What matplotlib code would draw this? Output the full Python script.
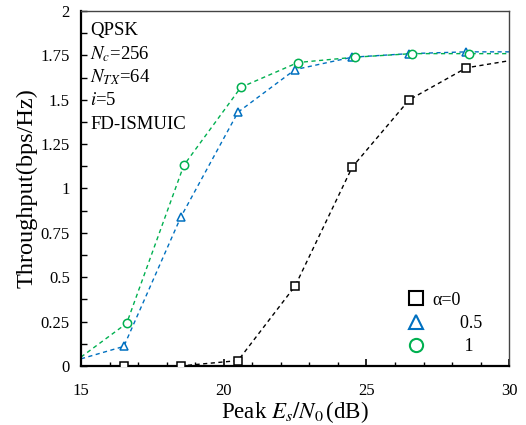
import numpy as np
import matplotlib
matplotlib.use("Agg")
import matplotlib.pyplot as plt
from matplotlib.ticker import MultipleLocator, FixedLocator

plt.rcParams['font.family'] = ['Liberation Serif', 'DejaVu Serif']
plt.rcParams['mathtext.fontset'] = 'stix'

# dados
x_a0 = [15, 16.5, 18.5, 20.5, 22.5, 24.5, 26.5, 28.5, 30]
y_a0 = [0, 0, 0, 0.03, 0.45, 1.12, 1.50, 1.68, 1.72]
x_a05 = [15, 16.5, 18.5, 20.5, 22.5, 24.5, 26.5, 28.5, 30]
y_a05 = [0.04, 0.11, 0.84, 1.43, 1.67, 1.74, 1.76, 1.77, 1.77]
x_a1 = [15, 16.6, 18.6, 20.6, 22.6, 24.6, 26.6, 28.6, 30]
y_a1 = [0.05, 0.24, 1.13, 1.57, 1.71, 1.74, 1.76, 1.76, 1.76]

legend_labels = ['α=0', '      0.5', '       1']
info_lines = ['QPSK', r'$N_c$=256', r'$N_{TX}$=64', r'$i$=5', 'FD-ISMUIC']
y_ticks = [0, 0.25, 0.5, 0.75, 1, 1.25, 1.5, 1.75, 2]
y_tick_labels = ['0', '0.25', '0.5', '0.75', '1', '1.25', '1.5', '1.75', '2']
x_ticks = [15, 20, 25, 30]

black = '#000000'
blue = '#0070C0'
green = '#00B050'

fig = plt.figure(figsize=(5.26, 4.25), dpi=100)
ax = fig.add_axes([0.154, 0.139, 0.814, 0.835])

series = [
    (x_a0, y_a0, black, 's', legend_labels[0]),
    (x_a05, y_a05, blue, '^', legend_labels[1]),
    (x_a1, y_a1, green, 'o', legend_labels[2]),
]
handles = []
for xs, ys, cor, mk, lab in series:
    ax.plot(xs, ys, color=cor, linestyle=(0, (3, 2.5)), linewidth=1.0, zorder=2)
    # marcadores so nos pontos medidos (sem as pontas 15 e 30)
    ax.plot(xs[1:-1], ys[1:-1], linestyle='none', marker=mk, markersize=6,
            markerfacecolor='white', markeredgecolor=cor, markeredgewidth=1.1, zorder=3)
    h, = ax.plot([], [], linestyle='none', marker=mk, markersize=9.5,
                 markerfacecolor='none', markeredgecolor=cor, markeredgewidth=1.5, label=lab)
    handles.append(h)

ax.set_xlim(15, 30)
ax.set_ylim(0, 2)

ax.xaxis.set_major_locator(FixedLocator(x_ticks))
ax.xaxis.set_minor_locator(MultipleLocator(1))
ax.set_yticks(y_ticks)
ax.set_yticklabels(y_tick_labels)
ax.yaxis.set_minor_locator(MultipleLocator(0.125))

ax.tick_params(axis='x', which='major', direction='in', length=5, width=1.2,
               labelsize=12, pad=12, top=False)
ax.tick_params(axis='x', which='minor', direction='in', length=3, width=1.0, top=False)
ax.tick_params(axis='y', which='major', direction='in', length=4, width=1.0,
               labelsize=12, pad=8, right=False)
ax.tick_params(axis='y', which='minor', direction='in', length=4, width=1.0, right=False)

for lado in ['left', 'bottom']:
    ax.spines[lado].set_linewidth(1.6)
    ax.spines[lado].set_color('black')
for lado in ['top', 'right']:
    ax.spines[lado].set_linewidth(1.0)
    ax.spines[lado].set_color('#444444')

ax.set_xlabel(r'Peak $E_s/N_0\,$(dB)', fontsize=16.5, labelpad=0)
ax.set_ylabel('Throughput(bps/Hz)', fontsize=17.5, labelpad=2)

y_txt = 0.945
for linha in info_lines:
    ax.text(0.022, y_txt, linha, transform=ax.transAxes, fontsize=13.5,
            va='center', ha='left')
    y_txt -= 0.066

leg = ax.legend(handles=handles, loc='lower left', bbox_to_anchor=(0.762, 0.03),
                frameon=False, fontsize=13, handletextpad=0.4, borderpad=0,
                labelspacing=0.35, handlelength=1.0, borderaxespad=0)

fig.savefig('out.png', dpi=100)
